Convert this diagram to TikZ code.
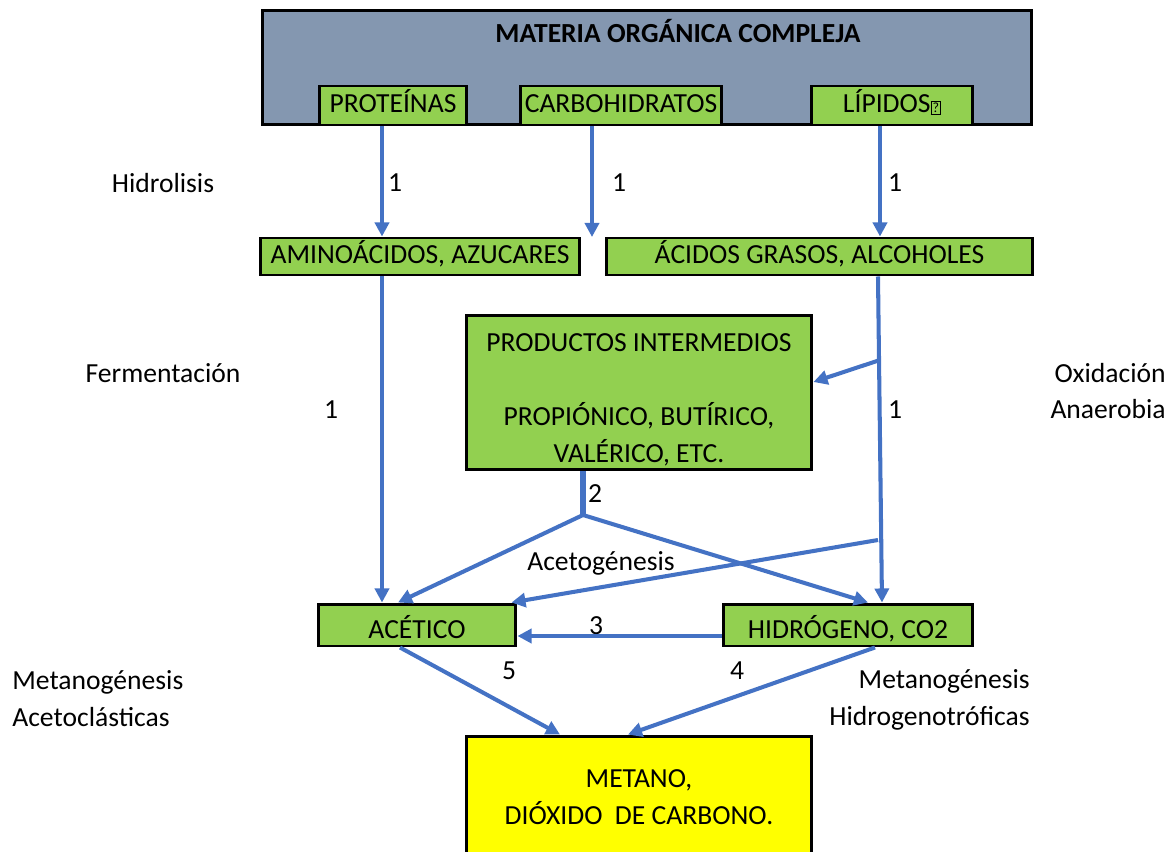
\documentclass[tikz,border=0pt]{standalone}
\usepackage{fontspec}
\setmainfont{Carlito}
\usetikzlibrary{arrows.meta,shapes}

\definecolor{verde}{HTML}{92D050}
\definecolor{gris}{HTML}{8497B0}
\definecolor{azul}{HTML}{4472C4}
\definecolor{amarillo}{HTML}{FFFF00}

\tikzset{
  caja/.style={draw=black, line width=1.7pt, fill=verde, inner sep=0pt, text height=11pt, text depth=3pt, font=\fontsize{15.7}{19}\selectfont},
  bajo/.style={text height=15.8pt, text depth=1pt},
  texto/.style={inner sep=0pt, font=\fontsize{15.7}{19}\selectfont},
  linea/.style={draw=azul, line width=2.3pt},
  flecha/.style={linea, -{Triangle[length=8pt,width=8pt]}}
}

\begin{document}
\begin{tikzpicture}[x=0.02cm,y=-0.02cm]
         \useasboundingbox (0,0) rectangle (1171,852);
         % cajas
         \node[caja, fill=gris, minimum width=15.4cm, minimum height=2.3cm] (materia) at (647,67.5) {};
         \node[texto, font=\fontsize{15.7}{19}\selectfont\bfseries] (titulo) at (678,31) {MATERIA ORGÁNICA COMPLEJA};
         \node[caja, minimum width=2.96cm, minimum height=0.78cm] (prot) at (393,105.5) {PROTEÍNAS};
         \node[caja, minimum width=4.04cm, minimum height=0.78cm] (carbo) at (621,105.5) {CARBOHIDRATOS};
         \node[caja, minimum width=3.24cm, minimum height=0.78cm] (lip) at (892,105.5) {LÍPIDOS{\setlength{\fboxsep}{0.6pt}\setlength{\fboxrule}{0.5pt}\fbox{\fontsize{8}{8}\selectfont ?}}};
         \node[caja, minimum width=6.4cm, minimum height=0.74cm] (amino) at (420,256.5) {AMINOÁCIDOS, AZUCARES};
         \node[caja, minimum width=8.54cm, minimum height=0.74cm] (acidos) at (819.5,256.5) {ÁCIDOS GRASOS, ALCOHOLES};
         \node[caja, minimum width=6.92cm, minimum height=3.1cm] (prod) at (639,392.5) {};
         \node[texto, align=center, font=\fontsize{15.7}{21}\selectfont] (prodtxt) at (639,400) {PRODUCTOS INTERMEDIOS\\ \mbox{}\\ PROPIÓNICO, BUTÍRICO,\\ VALÉRICO, ETC.};
         \node[caja, bajo, minimum width=3.96cm, minimum height=0.84cm] (acet) at (417,625) {ACÉTICO};
         \node[caja, bajo, minimum width=5cm, minimum height=0.84cm] (hidro) at (848,625) {HIDRÓGENO, CO2};
         \node[caja, fill=amarillo, minimum width=6.92cm, minimum height=2.34cm] (metano) at (639,794.5) {};
         \node[texto, align=center, font=\fontsize{15.7}{21}\selectfont] (metanotxt) at (639,797) {METANO,\\ DIÓXIDO\ \ DE CARBONO.};
         % etapas
         \node[texto] (hidrol) at (163,183) {Hidrolisis};
         \node[texto] (ferm) at (163,373) {Fermentación};
         \node[texto, anchor=east, align=right, font=\fontsize{15.7}{21}\selectfont] (oxid) at (1166,391) {Oxidación\\ Anaerobia};
         \node[texto] (acetog) at (601,563) {Acetogénesis};
         \node[texto, anchor=west, align=left, font=\fontsize{15.7}{21}\selectfont] (metaceto) at (12,699) {Metanogénesis\\ Acetoclásticas};
         \node[texto, anchor=east, align=right, font=\fontsize{15.7}{21}\selectfont] (methidro) at (1030,700) {Metanogénesis\\ Hidrogenotróficas};
         % numeros
         \foreach \nx/\ny/\nt [count=\i] in {395/183/1, 619/183/1, 895/183/1, 331/410/1, 895/410/1, 595/494/2, 596/626/3, 509/671/5, 737/671/4} {\node[texto] (num\i) at (\nx,\ny) {\nt}; }
         % puntos de paso
         \coordinate (xp) at (382,0);
         \coordinate (xc) at (592,0);
         \coordinate (xl) at (880,0);
         \coordinate (xa) at (878,0);
         \coordinate (xh) at (882,0);
         \coordinate (xm) at (583,0);
         \coordinate (fincarbo) at (592,237);
         \coordinate (rama1) at (880,360);
         \coordinate (rama2) at (583,515);
         \coordinate (rama3) at (878,540);
         % flechas
         \draw[flecha] (prot.south -| xp) -- (amino.north -| xp);
         \draw[flecha] (carbo.south -| xc) -- (fincarbo);
         \draw[flecha] (lip.south -| xl) -- (acidos.north -| xl);
         \draw[flecha] (amino.south -| xp) -- (acet.north -| xp);
         \draw[flecha] (acidos.south -| xa) -- (hidro.north -| xh);
         \draw[flecha] (rama1) -- ([yshift=0.21cm]prod.east);
         \draw[linea, line width=3.4pt] (prod.south -| xm) -- (rama2);
         \draw[flecha] (rama2) -- ([xshift=-0.38cm]acet.north);
         \draw[flecha] (rama2) -- ([xshift=0.4cm]hidro.north);
         \draw[flecha] (rama3) -- ([xshift=-0.12cm]acet.north east);
         \draw[flecha] ([yshift=-0.22cm]hidro.west) -- ([yshift=-0.22cm]acet.east);
         \draw[flecha] ([xshift=-0.34cm]acet.south) -- ([xshift=-1.58cm]metano.north);
         \draw[flecha] ([xshift=0.54cm]hidro.south) -- ([xshift=-0.22cm]metano.north);
      \end{tikzpicture}
\end{document}
